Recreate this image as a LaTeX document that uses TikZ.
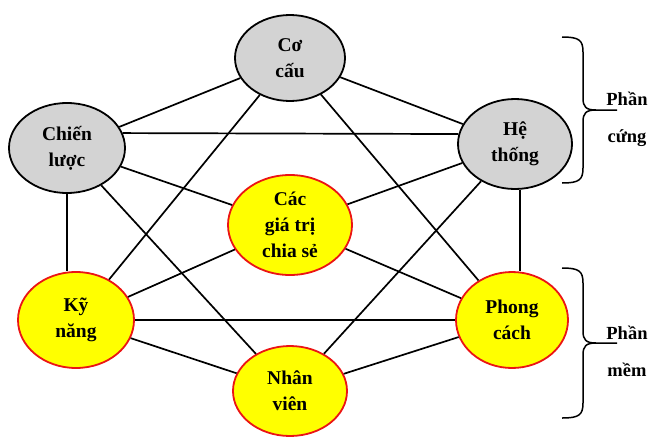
\documentclass[tikz,border=0pt]{standalone}
\usepackage{fontspec}
\setmainfont{Liberation Serif}
\usetikzlibrary{shapes.geometric}

\tikzset{
  hard/.style={ellipse, draw, line width=1.8pt, fill={rgb,255:red,211;green,211;blue,211},
    align=center, inner sep=0pt, font=\fontsize{19.5}{26}\selectfont\bfseries},
  soft/.style={ellipse, draw={rgb,255:red,235;green,20;blue,20}, line width=1.8pt, fill={rgb,255:red,255;green,255;blue,0},
    align=center, inner sep=0pt, font=\fontsize{19.5}{26}\selectfont\bfseries},
  link/.style={line width=1.7pt},
  side/.style={align=center, font=\fontsize{18.5}{37}\selectfont\bfseries}
}

\begin{document}
\begin{tikzpicture}[x=1pt,y=1pt,yscale=-1,xscale=1]
  \useasboundingbox (0,0) rectangle (650,439);

  %Shape: Ellipse [hard]
  \node [hard, minimum width=110, minimum height=86] (cocau) at (290,58) {Cơ\\cấu};
  \node [hard, minimum width=116, minimum height=90] (chien) at (67,148) {Chiến\\lược};
  \node [hard, minimum width=114, minimum height=90] (heth) at (515,144) {Hệ\\thống};
  %Shape: Ellipse [soft]
  \node [soft, minimum width=124, minimum height=100] (giatri) at (290,225) {Các\\giá trị\\chia sẻ};
  \node [soft, minimum width=116, minimum height=96] (kynang) at (76,320) {Kỹ\\năng};
  \node [soft, minimum width=114, minimum height=90] (nhanvien) at (290,391) {Nhân\\viên};
  \node [soft, minimum width=112, minimum height=96] (phong) at (512,320) {Phong\\cách};

  %Straight Lines
  \draw [link] (cocau) -- (chien);
  \draw [link] (cocau) -- (heth);
  \draw [link] (cocau) -- (kynang);
  \draw [link] (cocau) -- (phong);
  \draw [link] (chien.15) -- (heth.170);
  \draw [link] (chien) -- (giatri);
  \draw [link] (chien) -- (nhanvien);
  \draw [link] (chien.south) -- (chien.south |- kynang.north);
  \draw [link] (heth) -- (giatri);
  \draw [link] (heth) -- (nhanvien);
  \draw [link] ([xshift=5]heth.south) -- ([xshift=5]heth.south |- phong.north);
  \draw [link] (giatri) -- (kynang);
  \draw [link] (giatri) -- (phong);
  \draw [link] (kynang) -- (phong);
  \draw [link] (kynang) -- (nhanvien);
  \draw [link] (phong) -- (nhanvien);

  %Shape: Brace
  \draw [line width=1.5pt] (562,37) .. controls (579,37) and (583,40) .. (583,52) -- (583,98) .. controls (583,107) and (586,110) .. (596,110) -- (617,110);
  \draw [line width=1.5pt] (562,183) .. controls (579,183) and (583,180) .. (583,168) -- (583,122) .. controls (583,113) and (586,110) .. (596,110);
  \draw [line width=1.5pt] (562,268) .. controls (579,268) and (583,271) .. (583,283) -- (583,331) .. controls (583,340) and (586,343) .. (596,343) -- (617,343);
  \draw [line width=1.5pt] (562,418) .. controls (579,418) and (583,415) .. (583,403) -- (583,355) .. controls (583,346) and (586,343) .. (596,343);

  % Text Node
  \node [side] (cung) at (627,119) {Phần\\cứng};
  % Text Node
  \node [side] (mem) at (627,351) {Phần\\mềm};
\end{tikzpicture}
\end{document}
